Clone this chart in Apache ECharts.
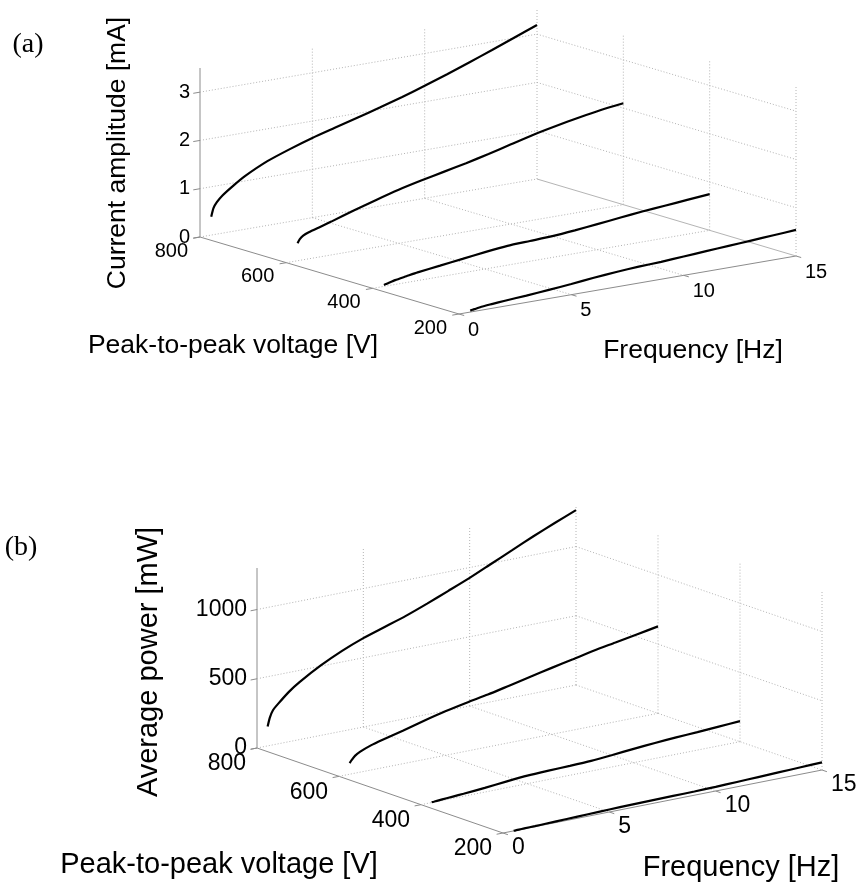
<!DOCTYPE html>
<html lang="en">
<head>
<meta charset="UTF-8">
<title>Current amplitude and average power vs frequency and voltage</title>
<script src="https://cdn.jsdelivr.net/npm/echarts@6/dist/echarts.min.js"></script>
<style>
    html, body { margin: 0; padding: 0; background: #fff; }
    #main { width: 861px; height: 884px; }
</style>
</head>
<body>
<div id="main"></div>
<script>
// frequency samples [Hz], shared by every curve
const freq = [0.5, 0.6, 0.75, 1, 1.5, 2, 3, 4, 5, 6, 7, 8, 9, 10, 11, 12, 13, 14, 15];
// one curve per peak-to-peak voltage [V]
const voltages = [800, 600, 400, 200];

// (a) current amplitude [mA]
const current800 = [0.38, 0.55, 0.66, 0.78, 0.95, 1.10, 1.33, 1.50, 1.65, 1.78, 1.91, 2.04, 2.18, 2.33, 2.49, 2.66, 2.83, 3.01, 3.19];
const current600 = [0.36, 0.44, 0.50, 0.55, 0.62, 0.69, 0.84, 0.98, 1.11, 1.22, 1.32, 1.42, 1.53, 1.65, 1.77, 1.87, 1.96, 2.04, 2.10];
const current400 = [0.03, 0.04, 0.06, 0.09, 0.13, 0.17, 0.23, 0.29, 0.35, 0.40, 0.42, 0.44, 0.48, 0.53, 0.58, 0.63, 0.67, 0.71, 0.75];
const current200 = [0.03, 0.04, 0.05, 0.07, 0.09, 0.11, 0.14, 0.18, 0.22, 0.27, 0.31, 0.34, 0.36, 0.39, 0.42, 0.45, 0.48, 0.51, 0.54];

// (b) average power [mW]
const power800 = [140, 200, 250, 290, 360, 415, 505, 580, 642, 692, 742, 800, 862, 925, 995, 1065, 1135, 1200, 1263];
const power600 = [80, 100, 125, 148, 178, 200, 238, 280, 318, 350, 378, 412, 446, 480, 512, 545, 572, 600, 628];
const power400 = [2, 3, 5, 8, 13, 18, 30, 45, 58, 64, 68, 74, 86, 100, 112, 122, 130, 139, 148];
const power200 = [1, 1, 2, 3, 4, 6, 10, 14, 18, 21, 23, 25, 27, 30, 35, 40, 45, 50, 55];

// tick labels
const freqTicks = [0, 5, 10, 15];
const voltTicks = [800, 600, 400, 200];
const currentTicks = [0, 1, 2, 3];
const powerTicks = [0, 500, 1000];

const SANS = '"Liberation Sans", Arial, sans-serif';
const SERIF = '"Liberation Serif", "Times New Roman", serif';

const F_MAX = freqTicks[freqTicks.length - 1];
const V_MIN = Math.min(...voltTicks);
const V_MAX = Math.max(...voltTicks);

// view of each 3d box: where the corner (f=0, v=min, z=0) sits and how the axes run on screen
const panels = [
    {
        tag: '(a)', tagPos: [28, 45],
        origin: [459, 314], fVec: [337, -58], vVec: [-259, -77], zLen: 169, zMax: 3.5,
        zTicks: currentTicks, curves: [current800, current600, current400, current200],
        tickFont: 20, nameFont: 26.5,
        zName: 'Current amplitude [mA]', zNamePos: [118, 153],
        vName: 'Peak-to-peak voltage [V]', vNamePos: [233, 346],
        fName: 'Frequency [Hz]', fNamePos: [693, 351],
        zLabelOff: [-10, 0], vLabelOff: [-12, 14], fLabelOff: [9, 16],
        solidRightEdge: true
    },
    {
        tag: '(b)', tagPos: [21, 548],
        origin: [503, 833], fVec: [319, -63], vVec: [-246, -85], zLen: 180, zMax: 1300,
        zTicks: powerTicks, curves: [power800, power600, power400, power200],
        tickFont: 23, nameFont: 29,
        zName: 'Average power [mW]', zNamePos: [149, 662],
        vName: 'Peak-to-peak voltage [V]', vNamePos: [219, 865],
        fName: 'Frequency [Hz]', fNamePos: [741, 868],
        zLabelOff: [-10, 0], vLabelOff: [-11, 16], fLabelOff: [9, 15],
        solidRightEdge: false
    }
];

function proj(p, f, v, z) {
    const a = f / F_MAX, b = (v - V_MIN) / (V_MAX - V_MIN), c = z / p.zMax;
    return [p.origin[0] + a * p.fVec[0] + b * p.vVec[0],
            p.origin[1] + a * p.fVec[1] + b * p.vVec[1] - c * p.zLen];
}

// [f1, v1, z1, f2, v2, z2, kind]  kind: 0 axis, 1 dotted grid, 2 light solid
function boxSegments(p) {
    const s = [];
    const Z = p.zMax;
    s.push([0, V_MAX, 0, 0, V_MAX, Z, 0]);
    s.push([0, V_MIN, 0, 0, V_MAX, 0, 0]);
    s.push([0, V_MIN, 0, F_MAX, V_MIN, 0, 0]);
    // back wall (v = max)
    freqTicks.forEach(f => { if (f > 0) s.push([f, V_MAX, 0, f, V_MAX, Z, 1]); });
    p.zTicks.forEach(z => s.push([0, V_MAX, z, F_MAX, V_MAX, z, 1]));
    // right wall (f = max)
    voltTicks.forEach(v => { if (v !== V_MAX) s.push([F_MAX, v, 0, F_MAX, v, Z, 1]); });
    p.zTicks.forEach(z => s.push([F_MAX, V_MAX, z, F_MAX, V_MIN, z, (z === 0 && p.solidRightEdge) ? 2 : 1]));
    // floor
    freqTicks.forEach(f => { if (f > 0 && f < F_MAX) s.push([f, V_MAX, 0, f, V_MIN, 0, 1]); });
    voltTicks.forEach(v => { if (v !== V_MAX && v !== V_MIN) s.push([0, v, 0, F_MAX, v, 0, 1]); });
    // tick marks
    p.zTicks.forEach(z => s.push([0, V_MAX, z, -0.3, V_MAX, z, 0]));
    voltTicks.forEach(v => s.push([0, v, 0, -0.3, v, 0, 0]));
    freqTicks.forEach(f => s.push([f, V_MIN, 0, f, V_MIN - 12, 0, 0]));
    return s;
}

function tickLabels(p) {
    const l = [];
    p.zTicks.forEach(z => l.push({ at: [0, V_MAX, z], text: String(z), off: p.zLabelOff, align: 'right' }));
    voltTicks.forEach(v => l.push({ at: [0, v, 0], text: String(v), off: p.vLabelOff, align: 'right' }));
    freqTicks.forEach(f => l.push({ at: [f, V_MIN, 0], text: String(f), off: p.fLabelOff, align: 'left' }));
    return l;
}

const series = [];
const graphics = [];

panels.forEach(p => {
    const segs = boxSegments(p);
    series.push({
        type: 'custom',
        coordinateSystem: 'cartesian2d',
        silent: true,
        z: 1,
        data: segs,
        renderItem: (params, api) => {
            const a = api.coord(proj(p, api.value(0), api.value(1), api.value(2)));
            const b = api.coord(proj(p, api.value(3), api.value(4), api.value(5)));
            const kind = api.value(6);
            return {
                type: 'line',
                shape: { x1: a[0], y1: a[1], x2: b[0], y2: b[1] },
                style: {
                    stroke: kind === 0 ? '#8c8c8c' : '#b4b4b4',
                    lineWidth: 1,
                    lineDash: kind === 1 ? [1, 2] : null
                }
            };
        }
    });

    const labels = tickLabels(p);
    series.push({
        type: 'custom',
        coordinateSystem: 'cartesian2d',
        silent: true,
        z: 3,
        data: labels.map((l, i) => [l.at[0], l.at[1], l.at[2], i]),
        renderItem: (params, api) => {
            const l = labels[api.value(3)];
            const c = api.coord(proj(p, api.value(0), api.value(1), api.value(2)));
            return {
                type: 'text',
                x: c[0] + l.off[0],
                y: c[1] + l.off[1],
                style: {
                    text: l.text, fill: '#000', font: p.tickFont + 'px ' + SANS,
                    align: l.align, verticalAlign: 'middle'
                }
            };
        }
    });

    p.curves.forEach((vals, i) => {
        series.push({
            type: 'line',
            name: p.tag + ' ' + voltages[i] + ' V',
            data: freq.map((f, k) => proj(p, f, voltages[i], vals[k])),
            showSymbol: false,
            smooth: 0.2,
            silent: true,
            z: 5,
            lineStyle: { color: '#000', width: 2.2 }
        });
    });

    graphics.push(
        { type: 'text', x: p.tagPos[0], y: p.tagPos[1],
          style: { text: p.tag, font: '28px ' + SERIF, fill: '#000', align: 'center', verticalAlign: 'middle' } },
        { type: 'text', x: p.zNamePos[0], y: p.zNamePos[1], rotation: Math.PI / 2,
          style: { text: p.zName, font: p.nameFont + 'px ' + SANS, fill: '#000', align: 'center', verticalAlign: 'middle' } },
        { type: 'text', x: p.vNamePos[0], y: p.vNamePos[1],
          style: { text: p.vName, font: p.nameFont + 'px ' + SANS, fill: '#000', align: 'center', verticalAlign: 'middle' } },
        { type: 'text', x: p.fNamePos[0], y: p.fNamePos[1],
          style: { text: p.fName, font: p.nameFont + 'px ' + SANS, fill: '#000', align: 'center', verticalAlign: 'middle' } }
    );
});

const chart = echarts.init(document.getElementById('main'));
chart.setOption({
    animation: false,
    backgroundColor: '#fff',
    grid: { left: 0, top: 0, width: 861, height: 884 },
    // screen-space axes that the projected 3d points are placed on
    xAxis: { type: 'value', min: 0, max: 861, show: false },
    yAxis: { type: 'value', min: 0, max: 884, inverse: true, show: false },
    graphic: graphics,
    series: series
});
</script>
</body>
</html>
